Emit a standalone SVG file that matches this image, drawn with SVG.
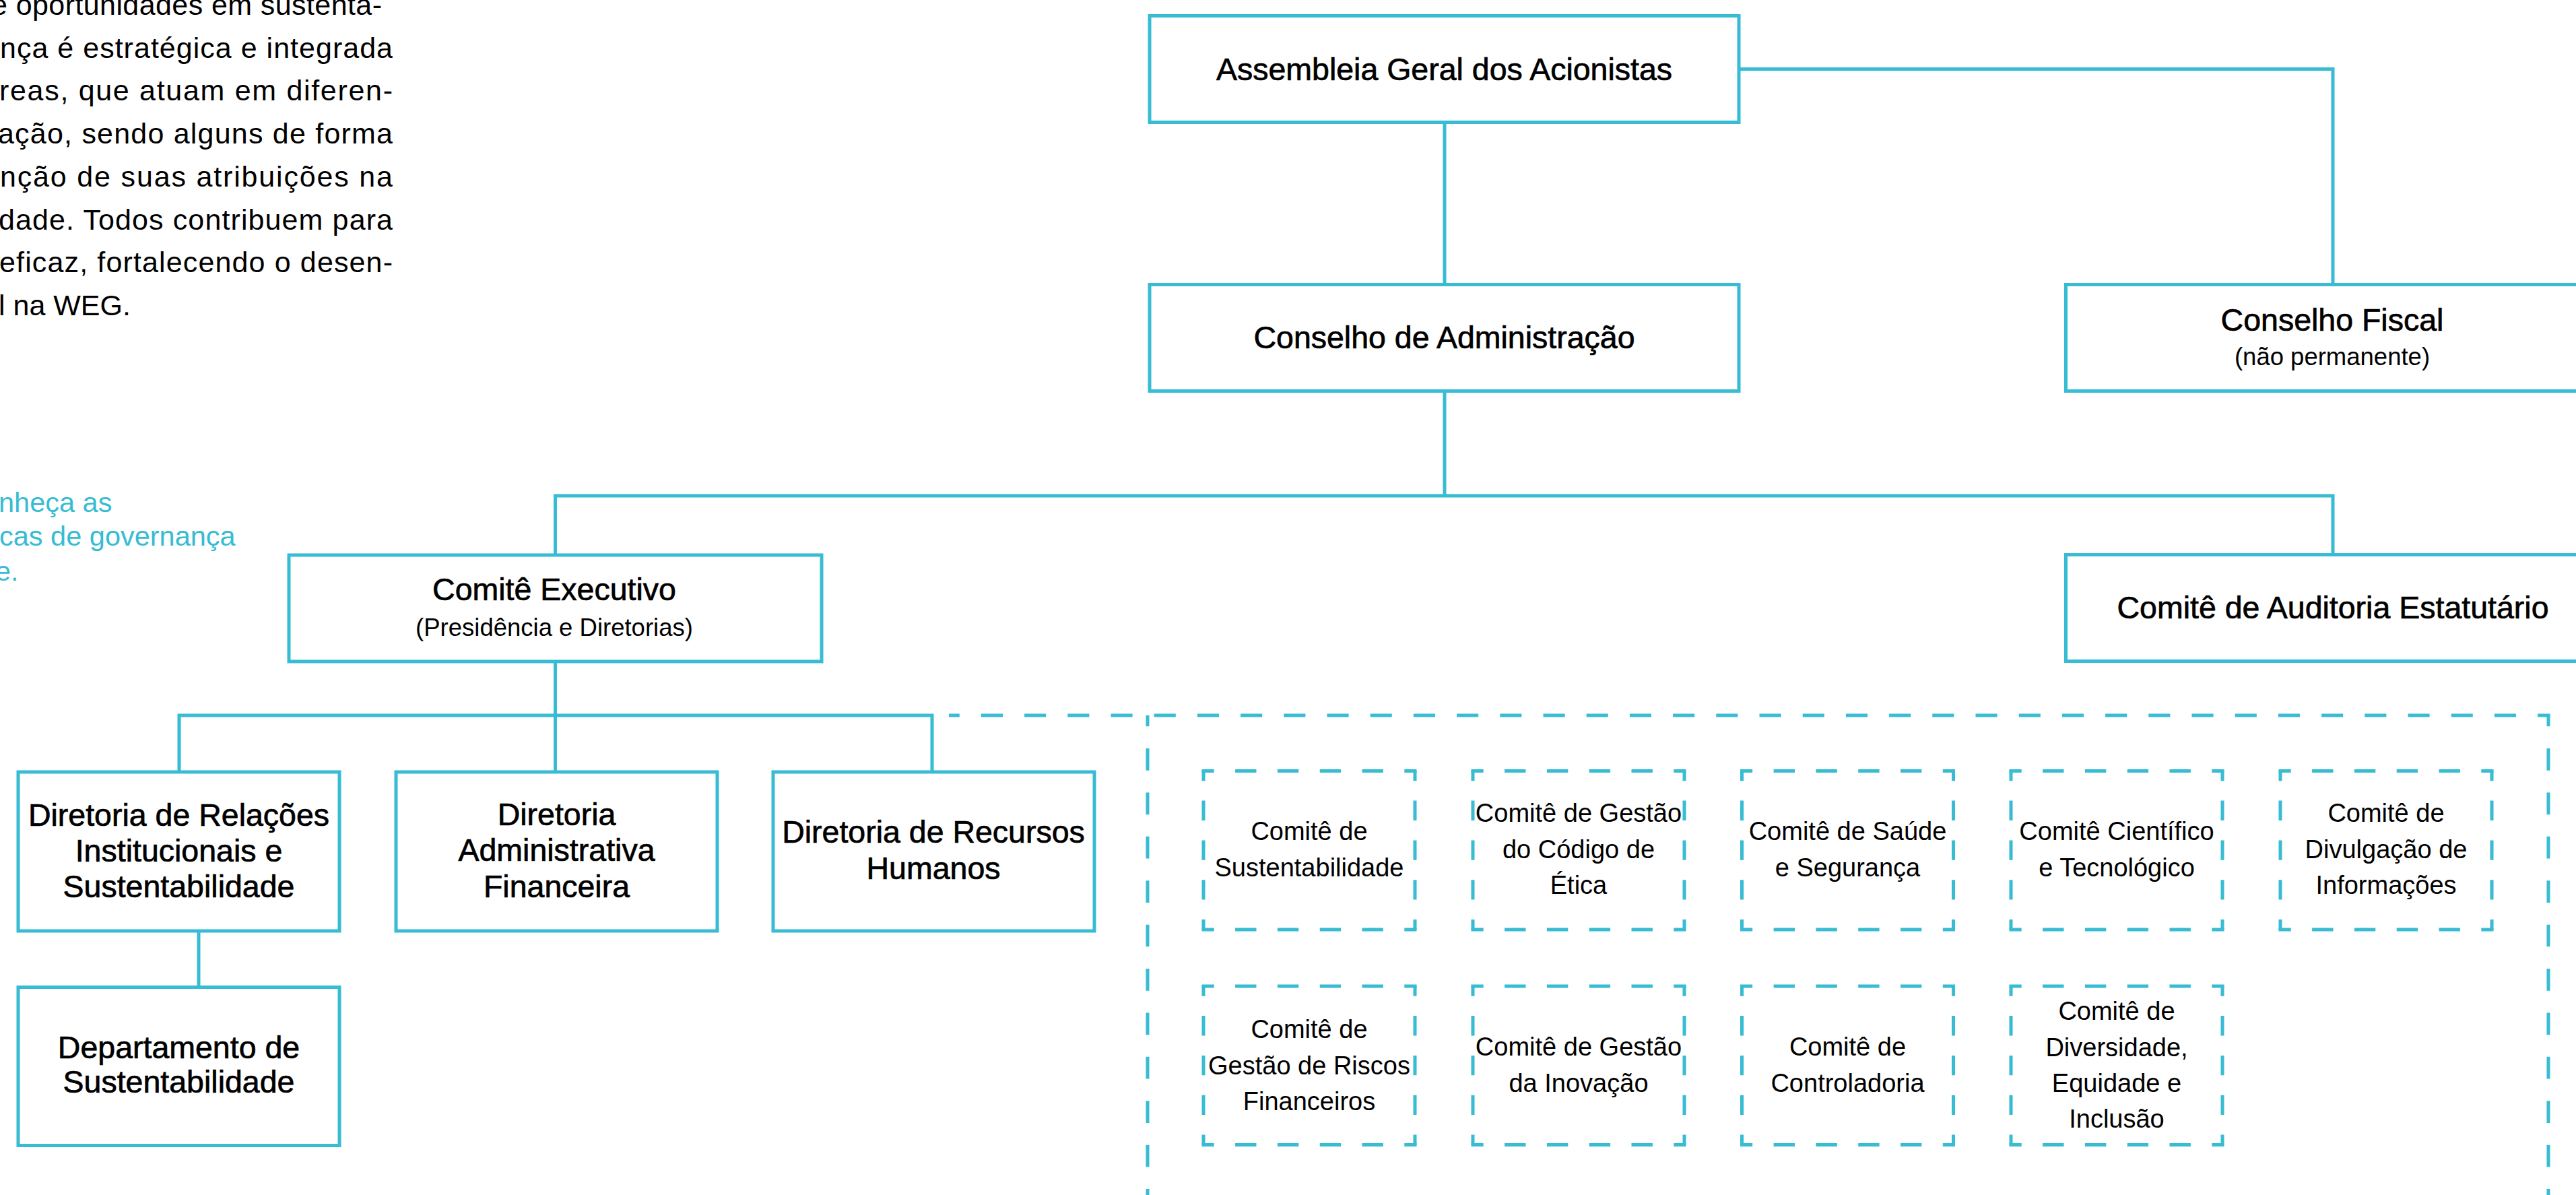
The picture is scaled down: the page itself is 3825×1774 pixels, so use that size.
<svg xmlns="http://www.w3.org/2000/svg" width="3825" height="1774" viewBox="0 0 3825 1774">
<style>
.box{fill:#fff;stroke:#37BCD3;stroke-width:5}
.ln{fill:none;stroke:#37BCD3;stroke-width:5}
.t{font-family:"Liberation Sans",Arial,sans-serif;font-size:46.5px;fill:#000;stroke:#000;stroke-width:0.7px;text-anchor:middle}
.s{font-family:"Liberation Sans",Arial,sans-serif;font-size:36.5px;fill:#000;text-anchor:middle}
.c{font-family:"Liberation Sans",Arial,sans-serif;font-size:38px;fill:#000;text-anchor:middle}
.p{font-family:"Liberation Sans",Arial,sans-serif;font-size:43px;fill:#000}
.b{font-family:"Liberation Sans",Arial,sans-serif;font-size:41.5px;fill:#37BCD3}
.dh{fill:none;stroke:#37BCD3;stroke-width:5;stroke-dasharray:31.4 31.4;stroke-dashoffset:13.2}
.dv{fill:none;stroke:#37BCD3;stroke-width:5;stroke-dasharray:29.4 29.4;stroke-dashoffset:14.7}
.bh{fill:none;stroke:#37BCD3;stroke-width:5;stroke-dasharray:32.1 32.1;stroke-dashoffset:16.3}
.bv{fill:none;stroke:#37BCD3;stroke-width:5;stroke-dasharray:32.7 32.7;stroke-dashoffset:16.35}
</style>
<rect width="3825" height="1774" fill="#fff"/>
<g id="intro-text">
<text class="p" x="-13" y="22" textLength="580" lengthAdjust="spacing">e oportunidades em sustenta-</text>
<text class="p" x="0" y="85.7" textLength="583" lengthAdjust="spacing">nça é estratégica e integrada</text>
<text class="p" x="-1" y="149.4" textLength="584" lengthAdjust="spacing">reas, que atuam em diferen-</text>
<text class="p" x="-3" y="213" textLength="586" lengthAdjust="spacing">ação, sendo alguns de forma</text>
<text class="p" x="0" y="276.8" textLength="583" lengthAdjust="spacing">nção de suas atribuições na</text>
<text class="p" x="-2" y="340.5" textLength="585" lengthAdjust="spacing">dade. Todos contribuem para</text>
<text class="p" x="-1" y="404.2" textLength="584" lengthAdjust="spacing">eficaz, fortalecendo o desen-</text>
<text class="p" x="-2" y="468">l na WEG.</text>
</g>
<g id="link-text">
<text class="b" x="-2" y="760">nheça as</text>
<text class="b" x="-1" y="810">cas de governança</text>
<text class="b" x="-7" y="861.7">e.</text>
</g>
<g id="connectors">
<path class="ln" d="M2582 102.5H3464V422.5"/>
<path class="ln" d="M2145 181.5V422.5"/>
<path class="ln" d="M2145 580.5V736"/>
<path class="ln" d="M824.5 824V736H3464V823.5"/>
<path class="ln" d="M824.5 982V1062"/>
<path class="ln" d="M266 1146V1062H1384V1146"/>
<path class="ln" d="M824.5 1062V1146"/>
<path class="ln" d="M295 1382V1465.5"/>
<path class="bh" d="M1409 1062H3786.5"/>
<path class="bv" d="M1704 1062V1780"/>
<path class="bv" d="M3784 1062V1780"/>
</g>
<g id="assembleia">
<rect class="box" x="1707" y="23.5" width="875" height="158"/>
<text class="t" x="2144.5" y="119">Assembleia Geral dos Acionistas</text>
</g>
<g id="conselho-administracao">
<rect class="box" x="1707" y="422.5" width="875" height="158"/>
<text class="t" x="2144.5" y="517">Conselho de Administração</text>
</g>
<g id="conselho-fiscal">
<rect class="box" x="3067.5" y="422.5" width="900" height="158"/>
<text class="t" x="3463" y="491">Conselho Fiscal</text>
<text class="s" x="3463" y="542">(não permanente)</text>
</g>
<g id="comite-executivo">
<rect class="box" x="429" y="824" width="791" height="158"/>
<text class="t" x="823" y="891">Comitê Executivo</text>
<text class="s" x="823" y="944">(Presidência e Diretorias)</text>
</g>
<g id="comite-auditoria">
<rect class="box" x="3067.5" y="823.5" width="900" height="158"/>
<text class="t" x="3464" y="918">Comitê de Auditoria Estatutário</text>
</g>
<g id="diretoria-relacoes">
<rect class="box" x="27" y="1146" width="477" height="236"/>
<text class="t" x="265.5" y="1226">Diretoria de Relações</text>
<text class="t" x="265.5" y="1279">Institucionais e</text>
<text class="t" x="265.5" y="1332">Sustentabilidade</text>
</g>
<g id="diretoria-administrativa">
<rect class="box" x="588" y="1146" width="477" height="236"/>
<text class="t" x="826.5" y="1225">Diretoria</text>
<text class="t" x="826.5" y="1278">Administrativa</text>
<text class="t" x="826.5" y="1332">Financeira</text>
</g>
<g id="diretoria-rh">
<rect class="box" x="1148" y="1146" width="477" height="236"/>
<text class="t" x="1386" y="1251">Diretoria de Recursos</text>
<text class="t" x="1386" y="1305">Humanos</text>
</g>
<g id="departamento-sustentabilidade">
<rect class="box" x="27" y="1465.5" width="477" height="235"/>
<text class="t" x="265.5" y="1571">Departamento de</text>
<text class="t" x="265.5" y="1622">Sustentabilidade</text>
</g>
<g id="comite-sustentabilidade">
<path class="dh" d="M1784.5 1144.5H2103.5"/><path class="dh" d="M1784.5 1380H2103.5"/>
<path class="dv" d="M1787 1144.5V1380"/><path class="dv" d="M2101 1144.5V1380"/>
<text class="c" x="1944" y="1247">Comitê de</text>
<text class="c" x="1944" y="1301">Sustentabilidade</text>
</g>
<g id="comite-etica">
<path class="dh" d="M2184.5 1144.5H2503.5"/><path class="dh" d="M2184.5 1380H2503.5"/>
<path class="dv" d="M2187 1144.5V1380"/><path class="dv" d="M2501 1144.5V1380"/>
<text class="c" x="2344" y="1220">Comitê de Gestão</text>
<text class="c" x="2344" y="1274">do Código de</text>
<text class="c" x="2344" y="1327">Ética</text>
</g>
<g id="comite-saude">
<path class="dh" d="M2584 1144.5H2903"/><path class="dh" d="M2584 1380H2903"/>
<path class="dv" d="M2586.5 1144.5V1380"/><path class="dv" d="M2900.5 1144.5V1380"/>
<text class="c" x="2743.5" y="1247">Comitê de Saúde</text>
<text class="c" x="2743.5" y="1301">e Segurança</text>
</g>
<g id="comite-cientifico">
<path class="dh" d="M2983.5 1144.5H3302.5"/><path class="dh" d="M2983.5 1380H3302.5"/>
<path class="dv" d="M2986 1144.5V1380"/><path class="dv" d="M3300 1144.5V1380"/>
<text class="c" x="3143" y="1247">Comitê Científico</text>
<text class="c" x="3143" y="1301">e Tecnológico</text>
</g>
<g id="comite-divulgacao">
<path class="dh" d="M3383.5 1144.5H3702.5"/><path class="dh" d="M3383.5 1380H3702.5"/>
<path class="dv" d="M3386 1144.5V1380"/><path class="dv" d="M3700 1144.5V1380"/>
<text class="c" x="3543" y="1220">Comitê de</text>
<text class="c" x="3543" y="1274">Divulgação de</text>
<text class="c" x="3543" y="1327">Informações</text>
</g>
<g id="comite-riscos">
<path class="dh" d="M1784.5 1464H2103.5"/><path class="dh" d="M1784.5 1699.5H2103.5"/>
<path class="dv" d="M1787 1464V1699.5"/><path class="dv" d="M2101 1464V1699.5"/>
<text class="c" x="1944" y="1541">Comitê de</text>
<text class="c" x="1944" y="1595">Gestão de Riscos</text>
<text class="c" x="1944" y="1648">Financeiros</text>
</g>
<g id="comite-inovacao">
<path class="dh" d="M2184.5 1464H2503.5"/><path class="dh" d="M2184.5 1699.5H2503.5"/>
<path class="dv" d="M2187 1464V1699.5"/><path class="dv" d="M2501 1464V1699.5"/>
<text class="c" x="2344" y="1567">Comitê de Gestão</text>
<text class="c" x="2344" y="1621">da Inovação</text>
</g>
<g id="comite-controladoria">
<path class="dh" d="M2584 1464H2903"/><path class="dh" d="M2584 1699.5H2903"/>
<path class="dv" d="M2586.5 1464V1699.5"/><path class="dv" d="M2900.5 1464V1699.5"/>
<text class="c" x="2743.5" y="1567">Comitê de</text>
<text class="c" x="2743.5" y="1621">Controladoria</text>
</g>
<g id="comite-diversidade">
<path class="dh" d="M2983.5 1464H3302.5"/><path class="dh" d="M2983.5 1699.5H3302.5"/>
<path class="dv" d="M2986 1464V1699.5"/><path class="dv" d="M3300 1464V1699.5"/>
<text class="c" x="3143" y="1514">Comitê de</text>
<text class="c" x="3143" y="1568">Diversidade,</text>
<text class="c" x="3143" y="1621">Equidade e</text>
<text class="c" x="3143" y="1674">Inclusão</text>
</g>
</svg>
